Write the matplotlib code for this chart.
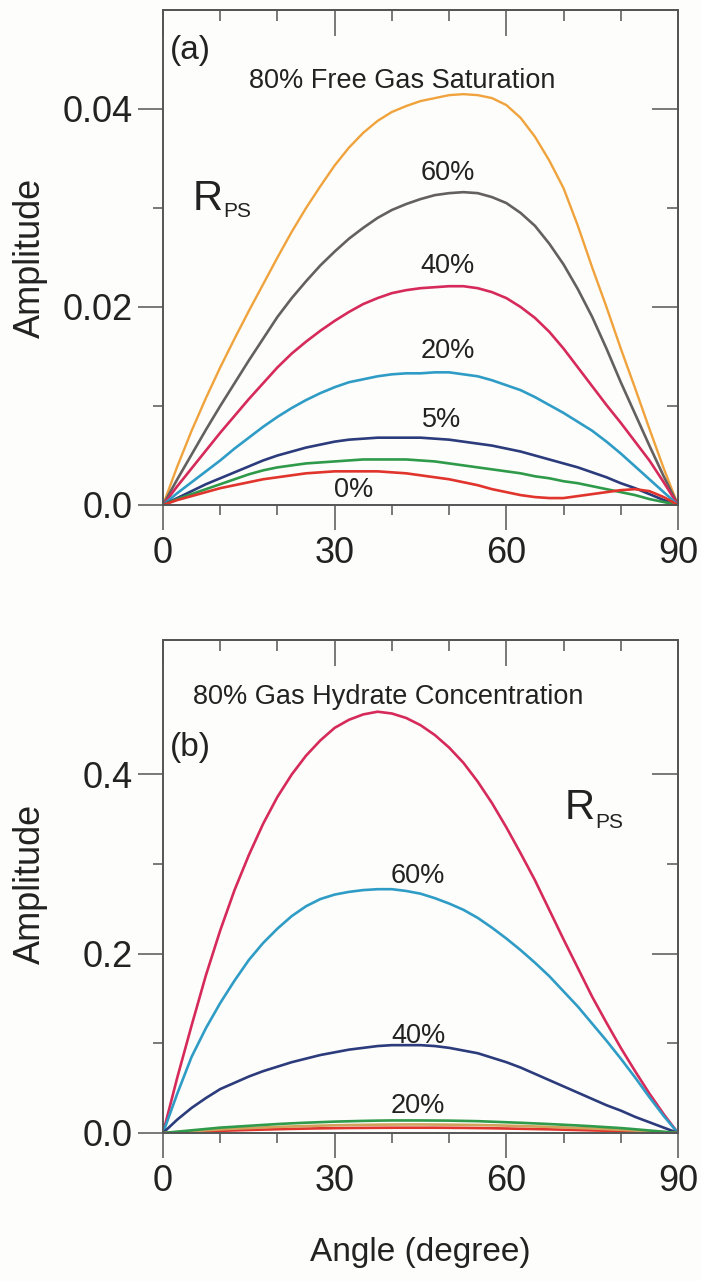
import matplotlib
matplotlib.use("Agg")
import matplotlib.pyplot as plt

plt.rcParams['font.family'] = ['Liberation Sans', 'DejaVu Sans']

# ---------------- data ----------------
angles = [0, 2.5, 5, 7.5, 10, 12.5, 15, 17.5, 20, 22.5, 25, 27.5, 30, 32.5, 35, 37.5,
          40, 42.5, 45, 47.5, 50, 52.5, 55, 57.5, 60, 62.5, 65, 67.5, 70, 72.5, 75,
          77.5, 80, 82.5, 85, 87.5, 90]

# (a) free gas saturation
gas_80 = [0, 0.0039, 0.0075, 0.0108, 0.0139, 0.0168, 0.0196, 0.0223, 0.0250, 0.0276, 0.0300, 0.0322,
          0.0343, 0.0361, 0.0376, 0.0388, 0.0397, 0.0403, 0.0408, 0.0411, 0.0414, 0.0415, 0.0414, 0.0411,
          0.0404, 0.0391, 0.0372, 0.0348, 0.0320, 0.0282, 0.0240, 0.0200, 0.0158, 0.0118, 0.0077, 0.0037, 0]
gas_60 = [0, 0.0026, 0.0051, 0.0076, 0.0100, 0.0123, 0.0146, 0.0168, 0.0190, 0.0209, 0.0226, 0.0242,
          0.0256, 0.0269, 0.0280, 0.0290, 0.0298, 0.0304, 0.0309, 0.0313, 0.0315, 0.0316, 0.0315, 0.0311,
          0.0305, 0.0295, 0.0282, 0.0264, 0.0243, 0.0218, 0.0190, 0.0158, 0.0124, 0.0092, 0.0060, 0.0029, 0]
gas_40 = [0, 0.0019, 0.0037, 0.0055, 0.0073, 0.0090, 0.0107, 0.0123, 0.0139, 0.0153, 0.0165, 0.0176,
          0.0186, 0.0195, 0.0203, 0.0209, 0.0214, 0.0217, 0.0219, 0.0220, 0.0221, 0.0221, 0.0219, 0.0215,
          0.0209, 0.0200, 0.0189, 0.0175, 0.0158, 0.0139, 0.0120, 0.0101, 0.0083, 0.0064, 0.0045, 0.0023, 0]
gas_20 = [0, 0.0012, 0.0023, 0.0034, 0.0045, 0.0057, 0.0068, 0.0079, 0.0089, 0.0098, 0.0106, 0.0113,
          0.0119, 0.0124, 0.0127, 0.0130, 0.0132, 0.0133, 0.0133, 0.0134, 0.0134, 0.0132, 0.0130, 0.0126,
          0.0121, 0.0116, 0.0109, 0.0101, 0.0093, 0.0084, 0.0075, 0.0064, 0.0052, 0.0039, 0.0026, 0.0013, 0]
gas_5 = [0, 0.0007, 0.0014, 0.0021, 0.0027, 0.0033, 0.0039, 0.0045, 0.0050, 0.0054, 0.0058, 0.0061,
         0.0064, 0.0066, 0.0067, 0.0068, 0.0068, 0.0068, 0.0068, 0.0067, 0.0066, 0.0064, 0.0062, 0.0060,
         0.0057, 0.0054, 0.0050, 0.0046, 0.0042, 0.0038, 0.0033, 0.0028, 0.0022, 0.0017, 0.0011, 0.0005, 0]
gas_green = [0, 0.0006, 0.0011, 0.0016, 0.0021, 0.0026, 0.0031, 0.0035, 0.0038, 0.0040, 0.0042, 0.0043,
             0.0044, 0.0045, 0.0046, 0.0046, 0.0046, 0.0046, 0.0045, 0.0044, 0.0042, 0.0040, 0.0038, 0.0036,
             0.0034, 0.0032, 0.0029, 0.0027, 0.0024, 0.0022, 0.0019, 0.0016, 0.0013, 0.0010, 0.0006, 0.0003, 0]
gas_0 = [0, 0.0005, 0.0009, 0.0013, 0.0017, 0.0020, 0.0023, 0.0026, 0.0028, 0.0030, 0.0032, 0.0033,
         0.0034, 0.0034, 0.0034, 0.0034, 0.0033, 0.0032, 0.0030, 0.0028, 0.0026, 0.0023, 0.0020, 0.0016,
         0.0013, 0.0010, 0.0008, 0.0007, 0.0007, 0.0009, 0.0011, 0.0013, 0.0015, 0.0016, 0.0014, 0.0008, 0]

# (b) gas hydrate concentration
hyd_80 = [0, 0.062, 0.120, 0.176, 0.226, 0.271, 0.310, 0.345, 0.375, 0.400, 0.421, 0.438,
          0.452, 0.461, 0.467, 0.470, 0.468, 0.463, 0.455, 0.444, 0.430, 0.413, 0.392, 0.368,
          0.341, 0.312, 0.282, 0.249, 0.216, 0.184, 0.152, 0.123, 0.095, 0.069, 0.044, 0.021, 0]
hyd_60 = [0, 0.044, 0.085, 0.117, 0.145, 0.170, 0.193, 0.212, 0.228, 0.242, 0.253, 0.261,
          0.266, 0.269, 0.271, 0.272, 0.272, 0.270, 0.267, 0.262, 0.256, 0.249, 0.240, 0.229,
          0.217, 0.204, 0.190, 0.175, 0.158, 0.141, 0.122, 0.103, 0.083, 0.062, 0.040, 0.019, 0]
hyd_40 = [0, 0.015, 0.028, 0.039, 0.049, 0.056, 0.063, 0.069, 0.074, 0.079, 0.083, 0.087,
          0.090, 0.093, 0.095, 0.097, 0.098, 0.098, 0.098, 0.097, 0.095, 0.092, 0.089, 0.084,
          0.079, 0.073, 0.066, 0.059, 0.052, 0.045, 0.038, 0.031, 0.025, 0.018, 0.012, 0.006, 0]
hyd_20 = [0, 0.0015, 0.0030, 0.0045, 0.0060, 0.0070, 0.0080, 0.0090, 0.0100, 0.0108, 0.0115, 0.0121,
          0.0127, 0.0131, 0.0135, 0.0138, 0.0140, 0.0140, 0.0140, 0.0139, 0.0138, 0.0135, 0.0132, 0.0126,
          0.0120, 0.0114, 0.0107, 0.0100, 0.0092, 0.0084, 0.0075, 0.0065, 0.0055, 0.0042, 0.0028, 0.0014, 0]
hyd_tan = [0, 0.0010, 0.0020, 0.0030, 0.0040, 0.0048, 0.0055, 0.0062, 0.0068, 0.0073, 0.0078, 0.0082,
           0.0086, 0.0089, 0.0091, 0.0093, 0.0094, 0.0095, 0.0095, 0.0094, 0.0093, 0.0091, 0.0089, 0.0086,
           0.0082, 0.0078, 0.0073, 0.0068, 0.0062, 0.0056, 0.0050, 0.0043, 0.0036, 0.0027, 0.0018, 0.0009, 0]
hyd_0 = [0, 0.0006, 0.0012, 0.0018, 0.0024, 0.0029, 0.0034, 0.0038, 0.0042, 0.0046, 0.0049, 0.0052,
         0.0054, 0.0056, 0.0057, 0.0058, 0.0059, 0.0059, 0.0059, 0.0059, 0.0058, 0.0057, 0.0055, 0.0053,
         0.0050, 0.0047, 0.0044, 0.0041, 0.0037, 0.0033, 0.0029, 0.0025, 0.0020, 0.0015, 0.0010, 0.0005, 0]

x_major = [0, 30, 60, 90]
x_minor = [10, 20, 40, 50, 70, 80]
ya_major = [0.0, 0.02, 0.04]
ya_minor = [0.01, 0.03]
ya_labels = ['0.0', '0.02', '0.04']
yb_major = [0.0, 0.2, 0.4]
yb_minor = [0.1, 0.3]
yb_labels = ['0.0', '0.2', '0.4']

# ---------------- style ----------------
BG = '#fdfdfb'
TXT = '#222222'
SP = '#555555'
C_OR = '#f0a33c'
C_GR = '#646060'
C_CR = '#d52a5a'
C_CY = '#2f9cc6'
C_NV = '#2b3b7c'
C_GN = '#2f9a4a'
C_RD = '#e0342c'
C_TN = '#d0a25c'

W, H = 701, 1281
fig = plt.figure(figsize=(W / 100, H / 100), dpi=100, facecolor=BG)

def make_axes(top_px, bot_px):
    return fig.add_axes([163 / W, 1 - bot_px / H, 515 / W, (bot_px - top_px) / H], facecolor=BG)

ax1 = make_axes(10, 505)
ax2 = make_axes(640, 1133)

def style(ax, ymax, ymaj, ymin, ylab):
    ax.set_xlim(0, 90)
    ax.set_ylim(0, ymax)
    for s in ax.spines.values():
        s.set_color(SP)
        s.set_linewidth(1.4)
    ax.set_xticks(x_major)
    ax.set_xticks(x_minor, minor=True)
    ax.set_yticks(ymaj)
    ax.set_yticks(ymin, minor=True)
    ax.set_yticklabels(ylab)
    ax.set_xticklabels([str(v) for v in x_major])
    ax.tick_params(which='both', direction='out', color=SP, width=1.1,
                   labelsize=26, labelcolor=TXT, pad=4)
    ax.tick_params(which='major', length=18)
    ax.tick_params(which='minor', length=7.5)
    # inward ticks on top and right
    sx = ax.secondary_xaxis('top')
    sx.set_xticks(x_major)
    sx.set_xticks(x_minor, minor=True)
    sx.tick_params(which='both', direction='in', color=SP, width=1.1, labeltop=False)
    sx.tick_params(which='major', length=19)
    sx.tick_params(which='minor', length=8)
    sx.spines['top'].set_color(SP)
    sx.spines['top'].set_linewidth(1.4)
    sy = ax.secondary_yaxis('right')
    sy.set_yticks(ymaj)
    sy.set_yticks(ymin, minor=True)
    sy.tick_params(which='both', direction='in', color=SP, width=1.1, labelright=False)
    sy.tick_params(which='major', length=19)
    sy.tick_params(which='minor', length=8)
    sy.spines['right'].set_color(SP)
    sy.spines['right'].set_linewidth(1.4)

style(ax1, 0.05, ya_major, ya_minor, ya_labels)
style(ax2, 0.55, yb_major, yb_minor, yb_labels)

LW = 1.9
# panel (a)
ax1.plot(angles, gas_80, color=C_OR, lw=1.7)
ax1.plot(angles, gas_60, color=C_GR, lw=LW)
ax1.plot(angles, gas_40, color=C_CR, lw=LW)
ax1.plot(angles, gas_20, color=C_CY, lw=LW)
ax1.plot(angles, gas_5, color=C_NV, lw=LW)
ax1.plot(angles, gas_green, color=C_GN, lw=LW)
ax1.plot(angles, gas_0, color=C_RD, lw=LW)

# panel (b)
ax2.plot(angles, hyd_80, color=C_CR, lw=LW)
ax2.plot(angles, hyd_60, color=C_CY, lw=LW)
ax2.plot(angles, hyd_40, color=C_NV, lw=LW)
ax2.plot(angles, hyd_0, color=C_RD, lw=LW)
ax2.plot(angles, hyd_tan, color=C_TN, lw=LW)
ax2.plot(angles, hyd_20, color=C_GN, lw=LW)

# annotations (a)
ax1.text(1.2, 0.0459, '(a)', fontsize=24, color=TXT, ha='left', va='center')
ax1.text(41.8, 0.0421, '80% Free Gas Saturation', fontsize=19.5, color=TXT, ha='center', va='baseline')
ax1.text(49.7, 0.0328, '60%', fontsize=19.5, color=TXT, ha='center', va='baseline')
ax1.text(49.7, 0.0234, '40%', fontsize=19.5, color=TXT, ha='center', va='baseline')
ax1.text(49.7, 0.0148, '20%', fontsize=19.5, color=TXT, ha='center', va='baseline')
ax1.text(48.6, 0.0079, '5%', fontsize=19.5, color=TXT, ha='center', va='baseline')
ax1.text(33.4, 0.0008, '0%', fontsize=19.5, color=TXT, ha='center', va='baseline')
ax1.text(5.2, 0.0298, 'R', fontsize=30, color=TXT, ha='left', va='baseline')
ax1.text(10.6, 0.0291, 'PS', fontsize=15, color=TXT, ha='left', va='baseline')

# annotations (b)
ax2.text(1.2, 0.43, '(b)', fontsize=24, color=TXT, ha='left', va='center')
ax2.text(39.3, 0.479, '80% Gas Hydrate Concentration', fontsize=19.5, color=TXT, ha='center', va='baseline')
ax2.text(44.6, 0.279, '60%', fontsize=19.5, color=TXT, ha='center', va='baseline')
ax2.text(44.6, 0.100, '40%', fontsize=19.5, color=TXT, ha='center', va='baseline')
ax2.text(44.6, 0.022, '20%', fontsize=19.5, color=TXT, ha='center', va='baseline')
ax2.text(70.2, 0.350, 'R', fontsize=30, color=TXT, ha='left', va='baseline')
ax2.text(75.6, 0.340, 'PS', fontsize=15, color=TXT, ha='left', va='baseline')

# axis labels
fig.text(30 / W, 1 - 258 / H, 'Amplitude', rotation=90, fontsize=26, color=TXT, ha='center', va='center')
fig.text(30 / W, 1 - 884 / H, 'Amplitude', rotation=90, fontsize=26, color=TXT, ha='center', va='center')
fig.text(420 / W, 1 - 1252 / H, 'Angle (degree)', fontsize=24, color=TXT, ha='center', va='center')

fig.savefig('out.png', dpi=100, facecolor=BG)
